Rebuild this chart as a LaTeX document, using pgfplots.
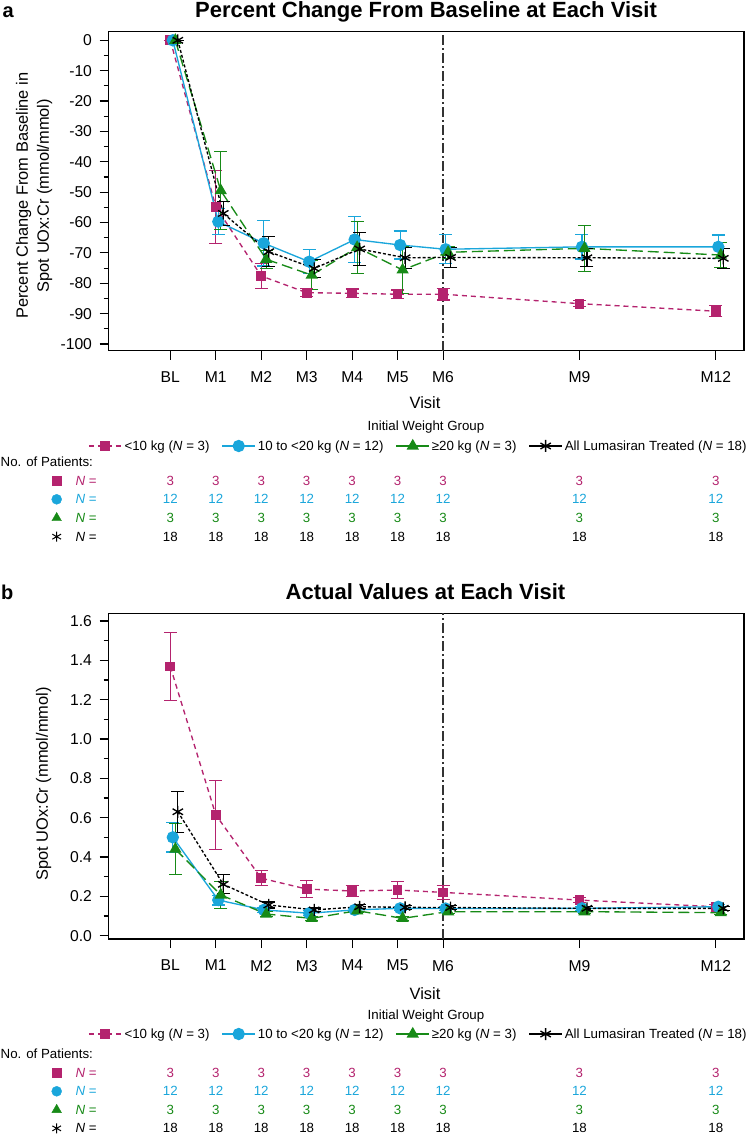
\documentclass[border=0pt]{standalone}
\usepackage{fontspec}
\setmainfont{Liberation Sans}
\usepackage{pgfplots}
\pgfplotsset{compat=1.18}

\definecolor{cpink}{HTML}{B4236E}
\definecolor{cblue}{HTML}{1AA6DB}
\definecolor{cgreen}{HTML}{178A17}

\newcommand{\tickfont}{\fontsize{15.7}{18}\selectfont}
\newcommand{\labfont}{\fontsize{16.4}{21}\selectfont}
\newcommand{\smallfont}{\fontsize{13.3}{16}\selectfont}

\pgfplotsset{
  panel/.style={
    scale only axis, width=635.5pt, xmin=-1.36, xmax=12.62,
    axis line style={line width=1.2pt},
    tick align=outside, major tick length=9pt, minor tick length=5pt,
    tick style={line width=1.1pt, black},
    xtick={0,1,2,3,4,5,6,9,12},
    xticklabels={BL,M1,M2,M3,M4,M5,M6,M9,M12},
    xtick pos=lower, ytick pos=left,
    ticklabel style={font=\tickfont},
    xticklabel style={yshift=-8.5pt},
    yticklabel style={xshift=-4pt},
    label style={font=\labfont},
    /pgf/number format/assume math mode=true,
    xlabel={Visit},
    legend columns=4,
    legend style={draw=none, fill=none, font=\smallfont, anchor=center,
      /tikz/every even column/.append style={column sep=10pt}},
    legend cell align=left,
    legend image code/.code={\draw[mark repeat=2,mark phase=2,##1] plot coordinates {(0pt,0pt) (16.5pt,0pt) (33pt,0pt)};},
  },
  ebars/.style={error bars/.cd, y dir=both, y explicit,
    error bar style={solid, line width=1.2pt},
    error mark options={solid, rotate=90, mark size=6.5pt, line width=1.2pt}},
  sPink/.style={cpink, line width=1.35pt, dash pattern=on 5pt off 4pt,
    mark=square*, mark size=4.2pt, mark options={solid}, ebars},
  sBlue/.style={cblue, line width=1.35pt, solid,
    mark=*, mark size=5.5pt, mark options={solid}, ebars},
  sGreen/.style={cgreen, line width=1.35pt, dash pattern=on 11pt off 5pt,
    mark=triangle*, mark size=5.8pt, mark options={solid},
    legend image post style={solid}, ebars},
  sBlack/.style={black, line width=1.35pt, dash pattern=on 3pt off 2pt,
    mark=asterisk, mark size=6pt, mark options={solid},
    legend image post style={solid}, ebars},
  vline/.style={forget plot, black!80, line width=1.3pt,
    dash pattern=on 10pt off 3pt on 2pt off 3pt},
  tpanel/.style={hide axis, scale only axis, width=635.5pt,
    xmin=-1.36, xmax=12.62, ymin=0.5, ymax=4.5, clip=false},
  nrow/.style={draw=none, mark=none, nodes near coords,
    point meta=explicit symbolic,
    every node near coord/.append style={anchor=center, font=\smallfont, text=#1}},
}

\newcommand{\patienttable}{%
  \addplot[only marks, mark=square*, cpink, mark size=4.4pt] coordinates {(-2.5,4)};
  \addplot[only marks, mark=*, cblue, mark size=5pt] coordinates {(-2.5,3)};
  \addplot[only marks, mark=triangle*, cgreen, mark size=5.5pt] coordinates {(-2.5,2)};
  \addplot[only marks, mark=asterisk, black, mark size=5pt, line width=1pt] coordinates {(-2.5,1)};
  \node[anchor=west, text=cpink, font=\smallfont] at (axis cs:-2.16,4) {\textit{N} =};
  \node[anchor=west, text=cblue, font=\smallfont] at (axis cs:-2.16,3) {\textit{N} =};
  \node[anchor=west, text=cgreen, font=\smallfont] at (axis cs:-2.16,2) {\textit{N} =};
  \node[anchor=west, text=black, font=\smallfont] at (axis cs:-2.16,1) {\textit{N} =};
  \addplot[nrow=cpink] coordinates {(0,4)[3] (1,4)[3] (2,4)[3] (3,4)[3] (4,4)[3] (5,4)[3] (6,4)[3] (9,4)[3] (12,4)[3]};
  \addplot[nrow=cblue] coordinates {(0,3)[12] (1,3)[12] (2,3)[12] (3,3)[12] (4,3)[12] (5,3)[12] (6,3)[12] (9,3)[12] (12,3)[12]};
  \addplot[nrow=cgreen] coordinates {(0,2)[3] (1,2)[3] (2,2)[3] (3,2)[3] (4,2)[3] (5,2)[3] (6,2)[3] (9,2)[3] (12,2)[3]};
  \addplot[nrow=black] coordinates {(0,1)[18] (1,1)[18] (2,1)[18] (3,1)[18] (4,1)[18] (5,1)[18] (6,1)[18] (9,1)[18] (12,1)[18]};
}

\begin{document}
\begin{tikzpicture}
\path[use as bounding box] (0,0) rectangle (752pt,-1136pt);

% ---------- panel a ----------
\node[anchor=base west, inner sep=0pt, font=\bfseries\fontsize{20}{24}\selectfont] at (2.5pt,-17.3pt) {a};
\node[anchor=base, inner sep=0pt, font=\bfseries\fontsize{22}{26}\selectfont] at (426pt,-17.3pt) {Percent Change From Baseline at Each Visit};

\begin{axis}[panel, at={(108.5pt,-350.7pt)}, anchor=south west, height=319pt,
  ymin=-102.2, ymax=2.83, ytick={-100,-90,...,0}, minor y tick num=1,
  ylabel={Percent Change From Baseline in\\Spot UOx:Cr (mmol/mmol)},
  ylabel style={align=center, at={(axis description cs:-0.117,0.486)}, anchor=center},
  xlabel style={at={(axis description cs:0.498,-0.163)}, anchor=center},
  legend style={at={(0.4876,-0.2987)}}]
\addplot[vline] coordinates {(6,-102.2) (6,2.83)};
\addplot[sPink] coordinates {
  (0,0) +- (0,0) (1,-54.8) +- (0,12) (2,-77.6) +- (0,4.1) (3,-83.1) +- (0,1.3)
  (4,-83.3) +- (0,1.4) (5,-83.6) +- (0,1.4) (6,-83.6) +- (0,1.9)
  (9,-86.7) +- (0,0.9) (12,-89.2) +- (0,1.8)};
\addlegendentry{<10 kg (\textit{N} = 3)}
\addplot[sBlue] coordinates {
  (0.055,0) +- (0,0) (1.055,-59.7) +- (0,4.2) (2.055,-66.8) +- (0,7.5) (3.055,-72.9) +- (0,3.9)
  (4.055,-65.6) +- (0,7.5) (5.055,-67.4) +- (0,4.6) (6.055,-68.8) +- (0,4.8)
  (9.055,-68.0) +- (0,4.0) (12.055,-68.0) +- (0,3.9)};
\addlegendentry{10 to <20 kg (\textit{N} = 12)}
\addplot[sGreen] coordinates {
  (0.11,0) +- (0,0) (1.11,-49.5) +- (0,12.8) (2.11,-72.1) +- (0,3) (3.11,-77.3) +- (0,4.8)
  (4.11,-68.2) +- (0,8.5) (5.11,-75.6) +- (0,7.7) (6.11,-69.8) +- (0,2)
  (9.11,-68.5) +- (0,7.5) (12.11,-70.7) +- (0,4.2)};
\addlegendentry{≥20 kg (\textit{N} = 3)}
\addplot[sBlack] coordinates {
  (0.165,0) +- (0,0) (1.165,-57) +- (0,4) (2.165,-69.6) +- (0,4.9) (3.165,-75.1) +- (0,3)
  (4.165,-68.7) +- (0,5.5) (5.165,-71.6) +- (0,3.5) (6.165,-71.5) +- (0,3.3)
  (9.165,-71.6) +- (0,3) (12.165,-71.8) +- (0,3.3)};
\addlegendentry{All Lumasiran Treated (\textit{N} = 18)}
\end{axis}

\node[font=\smallfont] at (426pt,-426.7pt) {Initial Weight Group};
\node[anchor=west, inner sep=0pt, font=\smallfont] at (0.5pt,-461.7pt) {No. of Patients:};

\begin{axis}[tpanel, at={(108.5pt,-546pt)}, anchor=south west, height=74.7pt]
\patienttable
\end{axis}

% ---------- panel b ----------
\node[anchor=base west, inner sep=0pt, font=\bfseries\fontsize{20}{24}\selectfont] at (1pt,-599.3pt) {b};
\node[anchor=base, inner sep=0pt, font=\bfseries\fontsize{22}{26}\selectfont] at (425.5pt,-599.3pt) {Actual Values at Each Visit};

\begin{axis}[panel, at={(108.5pt,-939pt)}, anchor=south west, height=325.7pt,
  ymin=-0.017, ymax=1.639, ytick={0,0.2,...,1.6}, minor y tick num=1,
  yticklabel style={/pgf/number format/.cd, fixed, fixed zerofill, precision=1},
  ylabel={Spot UOx:Cr (mmol/mmol)},
  ylabel style={at={(axis description cs:-0.102,0.476)}, anchor=center},
  xlabel style={at={(axis description cs:0.498,-0.1689)}, anchor=center},
  legend style={at={(0.4876,-0.2917)}}]
\addplot[vline] coordinates {(6,-0.017) (6,1.639)};
\addplot[sPink] coordinates {
  (0,1.368) +- (0,0.172) (1,0.614) +- (0,0.174) (2,0.292) +- (0,0.038) (3,0.237) +- (0,0.043)
  (4,0.227) +- (0,0.028) (5,0.232) +- (0,0.044) (6,0.220) +- (0,0.036)
  (9,0.181) +- (0,0.012) (12,0.147) +- (0,0.010)};
\addlegendentry{<10 kg (\textit{N} = 3)}
\addplot[sBlue] coordinates {
  (0.055,0.500) +- (0,0.075) (1.055,0.181) +- (0,0.025) (2.055,0.131) +- (0,0.012) (3.055,0.114) +- (0,0.012)
  (4.055,0.131) +- (0,0.010) (5.055,0.139) +- (0,0.010) (6.055,0.138) +- (0,0.010)
  (9.055,0.139) +- (0,0.010) (12.055,0.147) +- (0,0.012)};
\addlegendentry{10 to <20 kg (\textit{N} = 12)}
\addplot[sGreen] coordinates {
  (0.11,0.440) +- (0,0.130) (1.11,0.207) +- (0,0.070) (2.11,0.110) +- (0,0.012) (3.11,0.088) +- (0,0.010)
  (4.11,0.127) +- (0,0.010) (5.11,0.088) +- (0,0.010) (6.11,0.122) +- (0,0.010)
  (9.11,0.122) +- (0,0.010) (12.11,0.117) +- (0,0.010)};
\addlegendentry{≥20 kg (\textit{N} = 3)}
\addplot[sBlack] coordinates {
  (0.165,0.630) +- (0,0.105) (1.165,0.261) +- (0,0.048) (2.165,0.156) +- (0,0.015) (3.165,0.131) +- (0,0.010)
  (4.165,0.147) +- (0,0.010) (5.165,0.144) +- (0,0.010) (6.165,0.143) +- (0,0.010)
  (9.165,0.139) +- (0,0.010) (12.165,0.139) +- (0,0.010)};
\addlegendentry{All Lumasiran Treated (\textit{N} = 18)}
\end{axis}

\node[font=\smallfont] at (426pt,-1015.7pt) {Initial Weight Group};
\node[anchor=west, inner sep=0pt, font=\smallfont] at (0.5pt,-1053.3pt) {No. of Patients:};

\begin{axis}[tpanel, at={(108.5pt,-1137.6pt)}, anchor=south west, height=74.1pt]
\patienttable
\end{axis}
\end{tikzpicture}
\end{document}
